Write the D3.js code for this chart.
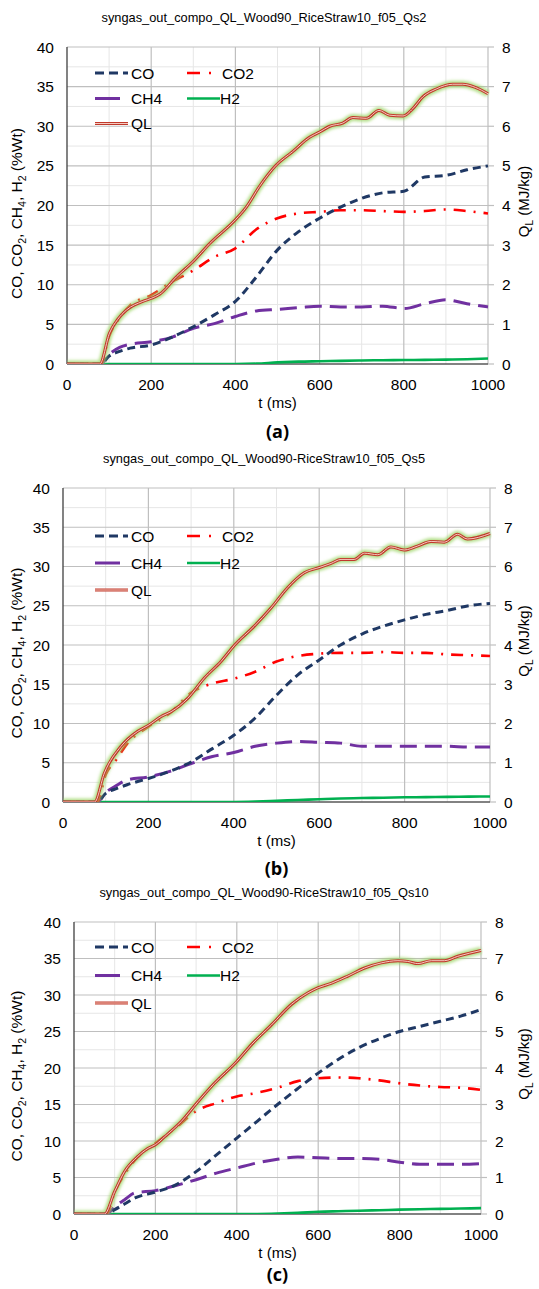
<!DOCTYPE html>
<html>
<head>
<meta charset="utf-8">
<script src="https://cdn.jsdelivr.net/npm/d3@7"></script>
<style>
  html, body { margin: 0; padding: 0; background: #ffffff; }
  svg { display: block; }
  text { font-family: "Liberation Sans", Arial, sans-serif; fill: #000; }
</style>
</head>
<body>
<svg id="fig" width="539" height="1289"></svg>
<script>
// Sampling times (ms) shared by the gas composition series
const gasTime = [0, 80, 100, 125, 150, 200, 250, 300, 350, 400, 450, 500, 550, 600, 650, 700, 750, 800, 850, 900, 950, 1000];

// Panel (a): Qs2
const coA  = [0, 0, 1.0, 1.6, 2.0, 2.4, 3.4, 4.7, 6.2, 7.9, 11.0, 14.4, 16.7, 18.4, 19.8, 20.9, 21.6, 21.8, 23.6, 23.8, 24.5, 25.0];
const co2A = [0, 0, 3.5, 5.8, 7.4, 8.7, 10.4, 11.8, 13.5, 14.6, 17.0, 18.4, 19.0, 19.2, 19.4, 19.4, 19.3, 19.2, 19.3, 19.5, 19.3, 19.0];
const ch4A = [0, 0, 1.2, 2.1, 2.5, 2.8, 3.4, 4.5, 5.1, 6.0, 6.7, 6.9, 7.1, 7.3, 7.2, 7.2, 7.3, 7.0, 7.6, 8.1, 7.6, 7.2];
const h2A  = [0, 0, 0, 0, 0, 0, 0, 0, 0, 0, 0.05, 0.2, 0.3, 0.35, 0.4, 0.45, 0.48, 0.5, 0.52, 0.55, 0.6, 0.7];
const qlTimeA = [0, 78, 101, 120, 141, 180, 201, 220, 260, 299, 339, 400, 426, 457, 497, 536, 576, 601, 624, 655, 679, 711, 741, 766, 798, 821, 845, 877, 916, 940, 970, 1000];
const qlA     = [0, 0, 0.78, 1.12, 1.36, 1.58, 1.66, 1.76, 2.2, 2.58, 3.04, 3.64, 3.96, 4.48, 5.02, 5.36, 5.72, 5.86, 6.0, 6.08, 6.22, 6.2, 6.4, 6.28, 6.26, 6.44, 6.74, 6.94, 7.06, 7.06, 6.98, 6.82];

// Panel (b): Qs5
const coB  = [0, 0, 1.1, 1.7, 2.2, 3.0, 3.9, 5.1, 6.8, 8.5, 10.7, 13.6, 16.2, 18.1, 20.0, 21.4, 22.4, 23.2, 23.9, 24.4, 25.0, 25.3];
const co2B = [0, 0, 3.5, 5.4, 7.4, 9.6, 11.3, 13.9, 15.1, 15.7, 16.6, 17.9, 18.6, 18.9, 19.0, 19.0, 19.1, 19.0, 19.0, 18.8, 18.7, 18.6];
const ch4B = [0, 0, 1.2, 2.1, 2.8, 3.2, 3.9, 4.9, 5.8, 6.3, 7.1, 7.5, 7.7, 7.6, 7.5, 7.1, 7.1, 7.1, 7.1, 7.1, 7.0, 7.0];
const h2B  = [0, 0, 0, 0, 0, 0, 0, 0, 0, 0, 0.05, 0.15, 0.25, 0.35, 0.45, 0.5, 0.55, 0.6, 0.62, 0.65, 0.68, 0.7];
const qlTimeB = [0, 74, 97, 136, 175, 201, 230, 253, 292, 331, 370, 402, 448, 487, 526, 565, 602, 628, 651, 682, 706, 737, 768, 799, 830, 862, 893, 924, 947, 1000];
const qlB     = [0, 0, 0.74, 1.42, 1.8, 1.96, 2.18, 2.3, 2.64, 3.16, 3.58, 4.0, 4.48, 4.94, 5.46, 5.84, 5.98, 6.08, 6.18, 6.18, 6.34, 6.3, 6.5, 6.42, 6.52, 6.64, 6.62, 6.82, 6.7, 6.84];

// Panel (c): Qs10
const coC  = [0, 0, 0.6, 1.4, 2.2, 3.0, 4.0, 5.8, 8.1, 10.4, 12.7, 15.0, 17.2, 19.3, 21.2, 22.8, 24.0, 25.0, 25.7, 26.4, 27.1, 28.0];
const co2C = [0, 0, 3.0, 5.5, 7.4, 9.7, 11.8, 14.1, 15.2, 16.1, 16.6, 17.3, 18.2, 18.6, 18.7, 18.6, 18.3, 17.9, 17.6, 17.4, 17.3, 17.0];
const ch4C = [0, 0, 1.0, 2.0, 2.9, 3.2, 3.9, 4.7, 5.6, 6.3, 7.0, 7.5, 7.8, 7.7, 7.6, 7.6, 7.5, 7.1, 6.8, 6.8, 6.8, 6.9];
const h2C  = [0, 0, 0, 0, 0, 0, 0, 0, 0, 0, 0, 0.05, 0.15, 0.3, 0.38, 0.45, 0.52, 0.6, 0.65, 0.7, 0.75, 0.8];
const qlTimeC = [0, 75, 100, 124, 157, 182, 200, 223, 264, 305, 345, 400, 436, 485, 534, 575, 600, 632, 673, 714, 755, 796, 820, 845, 878, 910, 943, 1000];
const qlC     = [0, 0, 0.62, 1.16, 1.58, 1.8, 1.9, 2.12, 2.54, 3.08, 3.58, 4.18, 4.64, 5.18, 5.74, 6.06, 6.2, 6.32, 6.52, 6.74, 6.88, 6.94, 6.92, 6.86, 6.94, 6.94, 7.06, 7.22];

// Axis ticks and labels
const xTicks = [0, 200, 400, 600, 800, 1000];
const yLeftTicks = [0, 5, 10, 15, 20, 25, 30, 35, 40];
const yRightTicks = [0, 1, 2, 3, 4, 5, 6, 7, 8];
const seriesNames = ["CO", "CO2", "CH4", "H2", "QL"];
const titles = [
  "syngas_out_compo_QL_Wood90_RiceStraw10_f05_Qs2",
  "syngas_out_compo_QL_Wood90-RiceStraw10_f05_Qs5",
  "syngas_out_compo_QL_Wood90-RiceStraw10_f05_Qs10"
];
const panelLabels = ["(a)", "(b)", "(c)"];

// Line styles per series
const styles = {
  CO:  { color: "#1f3864", width: 3,   dash: "8,5",        legendDash: "9,5" },
  CO2: { color: "#ff0000", width: 2.6, dash: "12,8,2,8",   legendDash: "13,9,2,9" },
  CH4: { color: "#7030a0", width: 3,   dash: "17,8",       legendDash: null },
  H2:  { color: "#00b050", width: 2.6, dash: null,         legendDash: null }
};

// Frame geometry of each panel
const layouts = [
  { left: 67,  right: 488, top: 47,  bottom: 364,  legendRows: [73, 98.5, 123.5], labelDy: 74 },
  { left: 63,  right: 490, top: 488, bottom: 802,  legendRows: [536, 563, 590],    labelDy: 73 },
  { left: 74,  right: 481, top: 922, bottom: 1214, legendRows: [947, 975.5, 1003], labelDy: 67 }
];

const panelData = [
  { CO: coA, CO2: co2A, CH4: ch4A, H2: h2A, qlT: qlTimeA, ql: qlA },
  { CO: coB, CO2: co2B, CH4: ch4B, H2: h2B, qlT: qlTimeB, ql: qlB },
  { CO: coC, CO2: co2C, CH4: ch4C, H2: h2C, qlT: qlTimeC, ql: qlC }
];

const svg = d3.select("#fig");
const defs = svg.append("defs");
const glow = defs.append("filter").attr("id", "glow")
  .attr("x", "-10%").attr("y", "-10%").attr("width", "120%").attr("height", "120%");
glow.append("feGaussianBlur").attr("stdDeviation", 1.8);

function drawPanel(i) {
  const L = layouts[i];
  const D = panelData[i];
  const x = d3.scaleLinear().domain([0, 1000]).range([L.left, L.right]);
  const y = d3.scaleLinear().domain([0, 40]).range([L.bottom, L.top]);
  const yR = d3.scaleLinear().domain([0, 8]).range([L.bottom, L.top]);
  const g = svg.append("g");

  // minor grid
  const minorX = d3.range(100, 1000, 200);
  const minorY = d3.range(2.5, 40, 5);
  g.selectAll(".mx").data(minorX).join("line")
    .attr("x1", d => x(d)).attr("x2", d => x(d)).attr("y1", L.top).attr("y2", L.bottom)
    .attr("stroke", "#e6e6e6").attr("stroke-width", 1);
  g.selectAll(".my").data(minorY).join("line")
    .attr("x1", L.left).attr("x2", L.right).attr("y1", d => y(d)).attr("y2", d => y(d))
    .attr("stroke", "#e6e6e6").attr("stroke-width", 1);
  // major grid
  g.selectAll(".gx").data(xTicks.slice(1)).join("line")
    .attr("x1", d => x(d)).attr("x2", d => x(d)).attr("y1", L.top).attr("y2", L.bottom)
    .attr("stroke", "#bfbfbf").attr("stroke-width", 1.2);
  g.selectAll(".gy").data(yLeftTicks.slice(1)).join("line")
    .attr("x1", L.left).attr("x2", L.right).attr("y1", d => y(d)).attr("y2", d => y(d))
    .attr("stroke", "#bfbfbf").attr("stroke-width", 1.2);

  // right axis tick marks
  g.selectAll(".rt").data(yRightTicks).join("line")
    .attr("x1", L.right).attr("x2", L.right + 6).attr("y1", d => yR(d)).attr("y2", d => yR(d))
    .attr("stroke", "#bfbfbf").attr("stroke-width", 1.2);

  // axis lines
  g.append("line").attr("x1", L.left).attr("x2", L.left).attr("y1", L.top).attr("y2", L.bottom)
    .attr("stroke", "#404040").attr("stroke-width", 1.3);
  g.append("line").attr("x1", L.left).attr("x2", L.right).attr("y1", L.bottom).attr("y2", L.bottom)
    .attr("stroke", "#595959").attr("stroke-width", 1.3);

  // tick labels
  g.selectAll(".xl").data(xTicks).join("text")
    .attr("x", d => x(d)).attr("y", L.bottom + 26).attr("text-anchor", "middle")
    .attr("font-size", 15.5).text(d => d);
  g.selectAll(".yl").data(yLeftTicks).join("text")
    .attr("x", L.left - 13).attr("y", d => y(d) + 5.5).attr("text-anchor", "end")
    .attr("font-size", 15.5).text(d => d);
  g.selectAll(".yr").data(yRightTicks).join("text")
    .attr("x", L.right + 14).attr("y", d => yR(d) + 5.5).attr("text-anchor", "start")
    .attr("font-size", 15.5).text(d => d);

  // titles
  svg.append("text").attr("x", 264).attr("y", L.top - 25).attr("text-anchor", "middle")
    .attr("font-size", 12.8).attr("fill", "#262626").text(titles[i]);
  svg.append("text").attr("x", (L.left + L.right) / 2).attr("y", L.bottom + 44)
    .attr("text-anchor", "middle").attr("font-size", 15).text("t (ms)");
  svg.append("text").attr("x", (L.left + L.right) / 2).attr("y", L.bottom + L.labelDy)
    .attr("text-anchor", "middle").attr("font-size", 18).attr("font-weight", "bold")
    .style("font-family", "'Open Sans', sans-serif").text(panelLabels[i]);

  // left axis title with subscripts
  const cy = (L.top + L.bottom) / 2 + 8;
  const lt = svg.append("text").attr("transform", `translate(22,${cy}) rotate(-90)`)
    .attr("text-anchor", "middle").attr("font-size", 15.5);
  const parts = [["CO, CO", 0], ["2", 1], [", CH", 0], ["4", 1], [", H", 0], ["2", 1], [" (%Wt)", 0]];
  let prevSub = 0;
  parts.forEach(([t, sub]) => {
    const ts = lt.append("tspan").text(t);
    if (sub) ts.attr("font-size", 10.5).attr("dy", 4);
    else if (prevSub) ts.attr("dy", -4);
    prevSub = sub;
  });
  // right axis title
  const rt = svg.append("text").attr("transform", `translate(529,${cy - 12}) rotate(-90)`)
    .attr("text-anchor", "middle").attr("font-size", 15);
  rt.append("tspan").text("Q");
  rt.append("tspan").attr("font-size", 10).attr("dy", 4).text("L");
  rt.append("tspan").attr("dy", -4).text(" (MJ/kg)");

  // clip
  const cid = "clip" + i;
  defs.append("clipPath").attr("id", cid).append("rect")
    .attr("x", L.left).attr("y", L.top - 2).attr("width", L.right - L.left + 2).attr("height", L.bottom - L.top + 2);
  const plot = g.append("g").attr("clip-path", `url(#${cid})`);

  const gasLine = d3.line().x((d, k) => x(gasTime[k])).y(d => y(d)).curve(d3.curveMonotoneX);
  ["H2", "CH4", "CO2", "CO"].forEach(name => {
    const s = styles[name];
    plot.append("path").datum(D[name]).attr("d", gasLine)
      .attr("fill", "none").attr("stroke", s.color).attr("stroke-width", s.width)
      .attr("stroke-dasharray", s.dash);
  });

  // heating value, right axis
  const qlLine = d3.line().x((d, k) => x(D.qlT[k])).y(d => yR(d)).curve(d3.curveMonotoneX);
  plot.append("path").datum(D.ql).attr("d", qlLine).attr("fill", "none")
    .attr("stroke", "#9bd463").attr("stroke-opacity", 0.75).attr("stroke-width", 7)
    .attr("filter", "url(#glow)");
  plot.append("path").datum(D.ql).attr("d", qlLine).attr("fill", "none")
    .attr("stroke", "#c0392b").attr("stroke-width", 3);
  plot.append("path").datum(D.ql).attr("d", qlLine).attr("fill", "none")
    .attr("stroke", "#f6c9bf").attr("stroke-width", 1);

  // legend
  const rows = L.legendRows;
  const items = [
    { name: "CO", lx: 95, len: 33, tx: 131, row: 0 },
    { name: "CO2", lx: 187, len: 25, tx: 222, row: 0 },
    { name: "CH4", lx: 95, len: 25, tx: 131, row: 1 },
    { name: "H2", lx: 187, len: 33, tx: 220, row: 1 },
    { name: "QL", lx: 95, len: 33, tx: 131, row: 2 }
  ];
  const lg = svg.append("g");
  items.forEach(it => {
    const yy = rows[it.row];
    if (it.name === "QL") {
      lg.append("line").attr("x1", it.lx).attr("x2", it.lx + it.len).attr("y1", yy).attr("y2", yy)
        .attr("stroke", "#c0392b").attr("stroke-width", 3);
      lg.append("line").attr("x1", it.lx).attr("x2", it.lx + it.len).attr("y1", yy).attr("y2", yy)
        .attr("stroke", "#f6c9bf").attr("stroke-width", 1);
    } else {
      const s = styles[it.name];
      lg.append("line").attr("x1", it.lx).attr("x2", it.lx + it.len).attr("y1", yy).attr("y2", yy)
        .attr("stroke", s.color).attr("stroke-width", s.width).attr("stroke-dasharray", s.legendDash);
    }
    lg.append("text").attr("x", it.tx).attr("y", yy + 5.5).attr("font-size", 15.5)
      .text(seriesNames[seriesNames.indexOf(it.name)]);
  });
}

[0, 1, 2].forEach(drawPanel);
</script>
</body>
</html>
